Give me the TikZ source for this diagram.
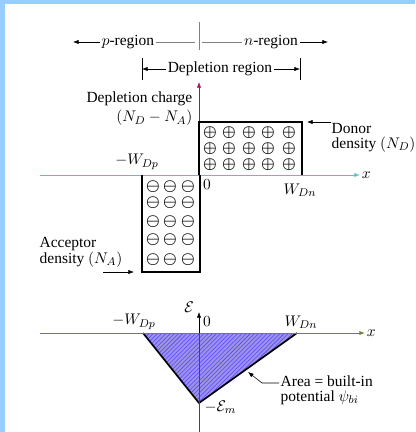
\documentclass[tikz,border=0pt]{standalone}
\usepackage{amsmath}
\usepackage{amssymb}
\usepackage{fontspec}
\setmainfont{Liberation Serif}
\usepackage{tikz}
\usetikzlibrary{arrows.meta, positioning, calc, patterns}
\definecolor{frameblue}{RGB}{153,204,255}
\definecolor{axcyan}{RGB}{95,190,200}
\definecolor{axolive}{RGB}{120,130,40}
\definecolor{axmag}{RGB}{170,20,90}
\definecolor{areafill}{RGB}{160,145,230}

\begin{document}
\begin{tikzpicture}[x=0.025cm, y=-0.025cm,
	font=\fontsize{11}{10.5}\selectfont,
	lbl/.style={inner sep=1pt},
	tip/.style={-{Latex[length=4pt,width=3pt]}},
	chg/.style={inner sep=0pt, font=\fontsize{11}{11}\selectfont}]
			\useasboundingbox (0,0) rectangle (415,432);
			% Frame
			\fill[frameblue] (0,0) rectangle (415,4);
			\fill[frameblue] (0,0) rectangle (5,432);
			
			% Regions on top
			\node[lbl] (preg) at (128,42) {$p$-region};
			\node[lbl] (nreg) at (271,42) {$n$-region};
			\coordinate (jtop) at (199,22);
			\coordinate (jbot) at (199,50);
			\coordinate (jmid) at (199,42);
			\coordinate (pend) at (73,42);
			\coordinate (nend) at (328,42);
			\draw[thin, gray] (jtop) -- (jbot);
			\draw[tip] (preg.west) -- (pend);
			\draw[tip] (nreg.east) -- (nend);
			\draw[thin, gray] (preg.east) -- ($(jmid)+(-4,0)$);
			\draw[thin, gray] ($(jmid)+(3,0)$) -- (nreg.west);
			
			% Depletion region
			\node[lbl] (dreg) at (220,69) {Depletion region};
			\coordinate (dl) at (142,69);
			\coordinate (dr) at (300,69);
			\draw (142,58) -- (142,80);
			\draw (300,58) -- (300,80);
			\draw[tip] (dreg.west) -- (dl);
			\draw[tip] (dreg.east) -- (dr);
			
			% Charge axes
			\coordinate (o1) at (199,175);
			\coordinate (ytop1) at (199,82);
			\coordinate (xl1) at (40,175);
			\coordinate (xr1) at (360,175);
			\draw[axcyan, semithick] (xl1) -- (o1);
			\draw[tip, axcyan, semithick] (o1) -- (xr1) node[right, black, lbl] (xlab1) {$x$};
			\draw[tip, axmag] (o1) -- (ytop1);
			\node[lbl, anchor=east, align=right] (qlab) at (194,109) {Depletion charge\\[2pt]$(N_D - N_A)$};
			
			% Donor and acceptor charge
			\draw[thick] (199,175) |- (302,122) -- (302,175);
			\draw[thick] (142,175) |- (200,272) -- (200,175);
			\foreach \px in {210,229,249,268,289}
				\foreach \py in {133,149,165}
					\node[chg] at (\px,\py) {$\boldsymbol{\oplus}$};
			\foreach \mx in {153,170,188}
				\foreach \my in {187,203,222,240,260}
					\node[chg] at (\mx,\my) {$\boldsymbol{\ominus}$};
			
			% Labels of the charge plot
			\node[lbl] (wdp1) at (137,162) {$-W_{Dp}$};
			\node[lbl] (zero1) at (207,185) {$0$};
			\node[lbl] (wdn1) at (300,190) {$W_{Dn}$};
			\node[lbl, anchor=west, align=left] (donlbl) at (330,138) {Donor\\density $(N_D)$};
			\coordinate (donA) at (331,122);
			\coordinate (donB) at (307,122);
			\draw[tip] (donA) -- (donB);
			\node[lbl, anchor=west, align=left] (acclbl) at (38,252) {Acceptor\\density $(N_A)$};
			\coordinate (accA) at (103,272);
			\coordinate (accB) at (134,272);
			\draw[tip] (accA) -- (accB);
			
			% Field plot
			\coordinate (o2) at (199,333);
			\coordinate (tl) at (143,333);
			\coordinate (tr) at (297,333);
			\coordinate (tb) at (199,403);
			\fill[areafill] (tl) -- (tr) -- (tb) -- cycle;
			\fill[pattern=north east lines, pattern color=blue!70] (tl) -- (tr) -- (tb) -- cycle;
			\draw[very thick] (tl) -- (tb) -- (tr);
			\coordinate (xl2) at (40,333);
			\coordinate (xr2) at (365,333);
			\coordinate (ybot2) at (199,432);
			\coordinate (ytop2) at (199,312);
			\draw[axolive, semithick] (xl2) -- (o2);
			\draw[tip, axolive, semithick] (o2) -- (xr2) node[right, black, lbl] (xlab2) {$x$};
			\draw[axmag] (ybot2) -- (o2);
			\draw[tip] (o2) -- (ytop2);
			\node[lbl] (elab) at (189,307) {$\mathcal{E}$};
			\node[lbl] (zero2) at (207,322) {$0$};
			\node[lbl] (wdp2) at (134,322) {$-W_{Dp}$};
			\node[lbl] (wdn2) at (301,322) {$W_{Dn}$};
			\node[lbl, anchor=west] (emlab) at (203,407) {$-\mathcal{E}_m$};
			\node[lbl, anchor=west, align=left] (arealbl) at (279,390) {Area = built-in\\potential $\psi_{bi}$};
			\coordinate (arA) at (262,383);
			\coordinate (arB) at (248,372);
			\draw[tip] (arealbl.west |- arA) -- (arA) -- (arB);
		\end{tikzpicture}
\end{document}
